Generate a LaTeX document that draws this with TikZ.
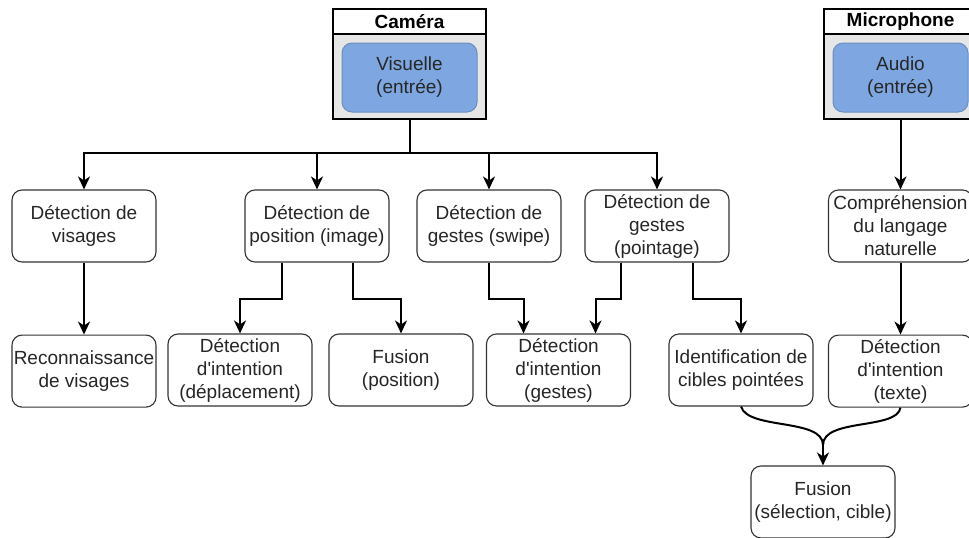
\documentclass[tikz,border=0pt]{standalone}
\usepackage{fontspec}
\setmainfont{Liberation Sans}
\usepackage{tikz}
\usetikzlibrary{arrows.meta, positioning}
\definecolor{boxline}{HTML}{333333}
\definecolor{inblue}{HTML}{7EA6E0}
\definecolor{inblueline}{HTML}{6C8EBF}
\definecolor{devgray}{HTML}{E6E6E6}

\begin{document}
\begin{tikzpicture}[x=1pt, y=-1pt,
    every node/.style={font=\fontsize{19}{23}\selectfont, align=center, inner sep=0pt, text=black!85},
    box/.style={draw=boxline, line width=1.1pt, rounded corners=10pt, fill=white, minimum width=144pt, minimum height=72pt},
    device/.style={draw=black, line width=1.1pt, fill=devgray, minimum width=153pt, minimum height=110pt},
    devhead/.style={draw=black, line width=1.1pt, fill=white, minimum width=153pt, minimum height=25pt,
      font=\fontsize{19}{23}\selectfont\bfseries, text=black},
    source/.style={draw=inblueline, line width=1pt, fill=inblue, rounded corners=10pt, minimum width=135pt, minimum height=69pt},
    arr/.style={line width=2pt, -{Stealth[length=13pt, width=12pt, inset=4pt]}},
    link/.style={line width=2pt}]
  \useasboundingbox (0,0) rectangle (969,538);

  \node[device] (cam) at (409.5,64) {};
  \node[devhead, anchor=north] (camhead) at (cam.north) {Caméra};
  \node[source] (visu) at (409.5,77.5) {Visuelle\\(entrée)};
  \node[device] (mic) at (900.5,64) {};
  \node[devhead, anchor=north] (michead) at (mic.north) {Microphone};
  \node[source] (audio) at (900.5,77.5) {Audio\\(entrée)};

  \node[box] (visages) at (84,226) {Détection de\\visages};
  \node[box] (pos) at (317,226) {Détection de\\position (image)};
  \node[box] (swipe) at (489,226) {Détection de\\gestes (swipe)};
  \node[box] (point) at (657,226) {Détection de\\gestes\\(pointage)};
  \node[box] (langage) at (900.5,226) {Compréhension\\du langage\\naturelle};

  \node[box, below=72pt of visages] (reco) {Reconnaissance\\de visages};
  \node[box] (depl) at (240,370) {Détection\\d\textquotesingle intention\\(déplacement)};
  \node[box] (fpos) at (401,370) {Fusion\\(position)};
  \node[box] (igestes) at (558.5,370) {Détection\\d\textquotesingle intention\\(gestes)};
  \node[box] (cibles) at (741,370) {Identification de\\cibles pointées};
  \node[box, below=72pt of langage] (itexte) {Détection\\d\textquotesingle intention\\(texte)};
  \node[box] (fsel) at (823,502) {Fusion\\(sélection, cible)};

  \coordinate (split) at (409.5,153);
  \foreach \t in {visages, pos, swipe, point}
    \draw[arr] (cam.south) -- (split) -| (\t.north);
  \draw[arr] (visages) -- (reco);
  \draw[arr] ([xshift=-35pt]pos.south) -- ++(0,36) -| (depl.north);
  \draw[arr] ([xshift=36pt]pos.south) -- ++(0,36) -| (fpos.north);
  \draw[arr] (swipe.south) -- ++(0,36) -| ([xshift=-35pt]igestes.north);
  \draw[arr] ([xshift=-36pt]point.south) -- ++(0,36) -| ([xshift=37pt]igestes.north);
  \draw[arr] ([xshift=36pt]point.south) -- ++(0,36) -| (cibles.north);
  \draw[arr] (mic.south) -- (langage.north);
  \draw[arr] (langage) -- (itexte);

  \coordinate (merge) at (823,445);
  \draw[link] (cibles.south) .. controls (748,430) and (823,418) .. (merge);
  \draw[link] (itexte.south) .. controls (897,430) and (823,418) .. (merge);
  \draw[arr] (merge) -- (fsel.north);
\end{tikzpicture}
\end{document}
